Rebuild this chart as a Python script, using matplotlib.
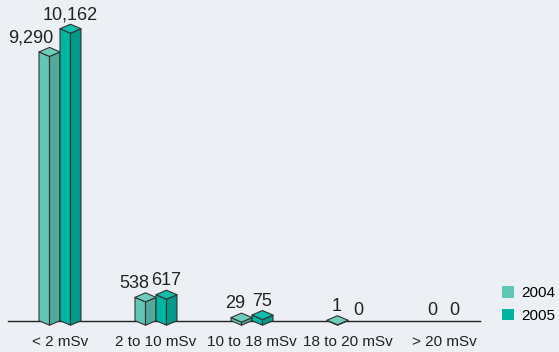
import numpy as np
import matplotlib.pyplot as plt
from matplotlib.patches import Patch, Polygon
from matplotlib.transforms import IdentityTransform

# Dose bands and number of workers per year
categories = ["< 2 mSv", "2 to 10 mSv", "10 to 18 mSv", "18 to 20 mSv", "> 20 mSv"]
years = ["2004", "2005"]
values_2004 = [9290, 538, 29, 1, 0]
values_2005 = [10162, 617, 75, 0, 0]

# face colours: (left, right, top)
colors_2004 = ("#62c6b7", "#50a999", "#6fcdbe")
colors_2005 = ("#00b4a2", "#009a8b", "#14bcaa")
legend_colors = ["#62c6b7", "#00b4a2"]

BG = "#eceff4"
INK = "#222222"
W, H, DPI = 559, 352, 100

# the original artwork is not drawn to a linear scale: small counts get
# extra height, so use a linear + sqrt value axis
C = 18.14


def fwd(v):
    v = np.asarray(v, dtype=float)
    return v + C * np.sqrt(np.clip(v, 0, None))


def inv(y):
    y = np.asarray(y, dtype=float)
    s = (-C + np.sqrt(C * C + 4 * np.clip(y, 0, None))) / 2
    return s * s


plt.rcParams["font.family"] = ["Liberation Sans", "DejaVu Sans"]

fig = plt.figure(figsize=(W / DPI, H / DPI), dpi=DPI, facecolor=BG)
base_px = 320.7
ax = fig.add_axes([8 / W, (H - base_px) / H, (480 - 8) / W, base_px / H])
ax.patch.set_alpha(0)
ax.set_yscale("function", functions=(fwd, inv))
ax.set_xlim(-52 / 96, 420 / 96)
ax.set_ylim(0, 11246)

HALF_W = 10.5   # px
SHIFT = 10.5    # px, bar centre offset from group centre
DEPTH = 4.5     # px, half height of the diamond section
to_px = ax.transData.transform


def draw_bar(xc, v, cols):
    if v <= 0:
        return
    left, right, top = cols
    cx, y0 = to_px((xc, 0))
    _, y1 = to_px((xc, v))
    kw = dict(edgecolor="#333333", linewidth=0.8, joinstyle="round",
              transform=IdentityTransform(), clip_on=False, zorder=4)
    l, r = cx - HALF_W, cx + HALF_W
    ax.add_patch(Polygon([(l, y0), (cx, y0 - DEPTH), (cx, y1 - DEPTH), (l, y1)],
                         facecolor=left, **kw))
    ax.add_patch(Polygon([(cx, y0 - DEPTH), (r, y0), (r, y1), (cx, y1 - DEPTH)],
                         facecolor=right, **kw))
    ax.add_patch(Polygon([(l, y1), (cx, y1 - DEPTH), (r, y1), (cx, y1 + DEPTH)],
                         facecolor=top, **kw))


dx = SHIFT * (ax.get_xlim()[1] - ax.get_xlim()[0]) / (480 - 8)
for i, (a, b) in enumerate(zip(values_2004, values_2005)):
    x1, x2 = i - dx, i + dx
    draw_bar(x1, a, colors_2004)
    draw_bar(x2, b, colors_2005)
    lift1 = DEPTH + 5 if a > 0 else 6
    lift2 = DEPTH + 5 if b > 0 else 6
    ax.annotate(f"{a:,}", (x1, a), xytext=(4, lift1), textcoords="offset pixels",
                ha="right", va="baseline", fontsize=13, color=INK)
    ax.annotate(f"{b:,}", (x2, b), xytext=(0, lift2), textcoords="offset pixels",
                ha="center", va="baseline", fontsize=13, color=INK)

for s in ["top", "left", "right"]:
    ax.spines[s].set_visible(False)
ax.spines["bottom"].set_color(INK)
ax.spines["bottom"].set_linewidth(1.0)
ax.set_yticks([])
ax.minorticks_off()
ax.set_xticks(range(len(categories)), categories)
ax.tick_params(axis="x", length=0, pad=10, labelsize=11, labelcolor=INK)
ax.tick_params(axis="y", which="both", left=False, labelleft=False)

handles = [Patch(facecolor=c, edgecolor="none") for c in legend_colors]
fig.legend(handles, years, loc="upper left", bbox_to_anchor=(502 / W, 1 - 286 / H),
           frameon=False, fontsize=11, handlelength=0.8, handleheight=0.8,
           handletextpad=0.45, labelspacing=0.55, borderpad=0, borderaxespad=0)

fig.savefig("out.png", dpi=DPI, facecolor=BG)
